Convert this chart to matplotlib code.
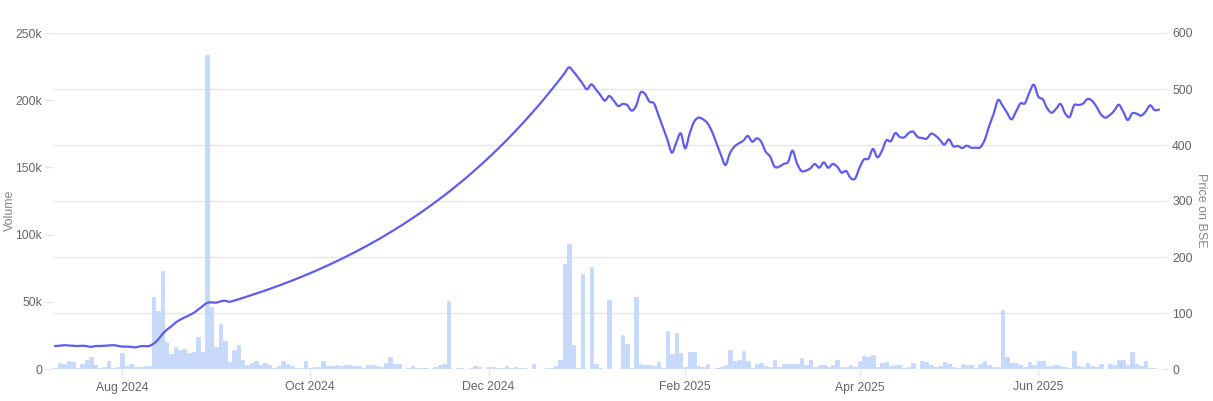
import numpy as np
import pandas as pd
import matplotlib
matplotlib.use('Agg')
import matplotlib.pyplot as plt
from matplotlib.path import Path
from matplotlib.patches import PathPatch

plt.rcParams['font.family'] = ['Liberation Sans', 'DejaVu Sans']

# trading calendar (BSE): weekdays minus exchange holidays, plus budget-day session
start_day = '2024-07-10'
end_day = '2025-07-09'
holidays = ['2024-07-17', '2024-08-15', '2024-10-02', '2024-11-01', '2024-11-15',
            '2024-11-20', '2024-12-25', '2025-02-26', '2025-03-14', '2025-03-31',
            '2025-04-10', '2025-04-14', '2025-04-18', '2025-05-01']
special_sessions = ['2025-02-01']
tick_months = ['2024-08-01', '2024-10-01', '2024-12-01', '2025-02-01', '2025-04-01', '2025-06-01']

volume = [
    500, 4200, 3500, 6000, 5000, 750, 3700, 6700, 9000, 3000, 750, 1500, 5700, 750, 1700,
    12200, 2500, 3500, 1200, 1200, 2200, 2200, 53600, 43000, 73000, 20000, 11000, 16400, 14000, 15000,
    12000, 12600, 23600, 12600, 234000, 46400, 16400, 33500, 20800, 5000, 14000, 18000, 6500, 3000, 4500,
    6000, 3000, 4200, 3000, 500, 2500, 5700, 3700, 2200, 1000,
    500, 6000, 500, 1500, 1500, 6000, 2200, 2200, 3200, 2200, 3000, 3000, 2200, 2000, 750,
    2700, 3000, 2200, 1500, 4500, 9000, 3500, 3700, 0, 1000, 2000, 500, 750, 500, 250,
    1500, 3000, 3700, 50600, 250, 750, 750, 250, 1000, 2500, 1700, 250, 1200, 1200, 750,
    750, 2200, 750, 1200, 1000, 750, 250, 3500, 250, 250, 750,
    750, 2200, 7000, 78000, 92700, 17600, 750, 70700, 0, 75600, 3700, 750, 0, 51000,
    250, 250, 25300, 18600, 1000, 53600, 3500, 2700, 3000, 2500, 5000, 750, 28000, 11400, 26800,
    12000, 1500, 13000, 13000, 2000, 1700, 3500, 0, 500, 1500, 2700, 13900, 6000, 6700, 13400,
    6000, 1000, 3700, 4500, 2200, 1700, 6500, 1700, 3700, 4000, 3700, 3700, 8400, 3000, 6500,
    1500, 3200, 3200, 1200, 2700, 6700, 1700, 1700,
    3000, 1500, 6000, 9900, 8900, 10700, 1500, 4500, 5000, 2200, 3200, 3200, 500, 1500, 4700,
    250, 5700, 5200, 3000, 1700, 2000, 5000, 4000, 1200, 750, 3500, 2700, 2700, 750, 3700,
    5700, 3200, 1500, 1700, 43900, 9200, 4200, 4200, 3000, 1200, 5200, 3000, 6000, 6000, 2500,
    2500, 3200, 2000, 1200, 500, 13400, 2200, 1500, 4200, 2500, 1200, 3500, 250, 3500, 3000,
    6700, 6700, 3200, 12400, 4000, 2000, 5700, 500, 500, 250,
]

price = [
    41.1, 41.5, 42.5, 42.0, 41.5, 41.0, 41.5, 41.0, 39.5, 41.0,
    41.0, 41.5, 42.0, 42.5, 41.5, 40.0, 40.0, 39.5, 38.7, 40.5,
    41.0, 41.0, 45.0, 52.0, 62.0, 70.0, 76.0, 83.0, 88.0, 92.0,
    96.0, 100.0, 106.0, 112.0, 118.0, 119.0, 118.5, 120.5, 122.0, 120.0,
    122.0, 124.4, 126.9, 129.5, 132.1, 134.7, 137.4, 140.1, 142.9, 145.8,
    148.7, 151.7, 154.7, 157.8, 161.0, 164.2, 167.5, 170.8, 174.2, 177.7,
    181.3, 184.9, 188.6, 192.4, 196.2, 200.2, 204.2, 208.2, 212.4, 216.7,
    221.0, 225.4, 229.9, 234.5, 239.2, 244.0, 248.9, 253.9, 258.9, 264.1,
    269.4, 274.8, 280.3, 285.9, 291.6, 297.4, 303.4, 309.4, 315.6, 321.9,
    328.4, 334.9, 341.6, 348.5, 355.4, 362.6, 369.8, 377.2, 384.7, 392.4,
    400.3, 408.3, 416.5, 424.8, 433.3, 442.0, 450.8, 459.8, 469.0, 478.4,
    488.0, 497.7, 507.7, 517.8, 528.2, 538.7,
    531.0, 520.8, 510.1, 499.4, 508.3, 499.4, 489.3, 479.2, 487.5, 479.2,
    469.6, 473.2, 471.4, 461.3, 469.6, 493.5, 491.1, 477.4, 474.4, 453.6,
    431.6, 410.1, 386.3, 404.2, 420.8, 394.0, 420.8, 441.7, 448.8, 445.8,
    438.7, 423.8, 403.0, 382.1, 364.3, 385.1, 397.0, 403.0, 407.7, 416.1,
    405.9, 411.9, 405.9, 388.1, 379.2, 361.3, 361.3, 366.1, 369.6, 389.9,
    367.3, 353.6, 354.2, 358.3, 366.1, 359.5, 369.0, 359.5, 366.1, 361.3,
    350.6, 353.6,
    341.1, 339.9, 359.5, 374.4, 375.6, 392.9, 378.0, 389.3, 408.3, 406.6,
    421.4, 414.3, 413.7, 421.4, 423.8, 414.3, 412.5, 411.3, 420.2, 416.7,
    408.9, 400.6, 410.1, 397.6, 398.2, 394.6, 398.8, 395.2, 395.2, 395.8,
    408.9, 433.9, 455.4, 480.4, 470.2, 457.7, 445.8, 459.5, 474.4, 474.4,
    493.5, 507.7, 486.3, 481.5, 465.5, 457.7, 464.9, 473.2, 456.5, 450.0,
    470.8, 471.4, 473.8, 482.1, 479.2, 468.5, 454.8, 448.8, 453.6, 461.3,
    472.0, 459.5, 444.6, 456.5, 455.9, 452.4, 459.5, 470.8, 462.5, 463.1,
]

vol_ticks = [0, 50000, 100000, 150000, 200000, 250000]
vol_labels = ['0', '50k', '100k', '150k', '200k', '250k']
price_ticks = [0, 100, 200, 300, 400, 500, 600]

days = pd.bdate_range(start_day, end_day)
days = days.drop(pd.to_datetime(holidays)).union(pd.to_datetime(special_sessions))

n = len(volume)
x = np.arange(n)
tick_pos = [int(np.searchsorted(days, pd.Timestamp(m))) for m in tick_months]
tick_lab = [pd.Timestamp(m).strftime('%b %Y') for m in tick_months]


def smooth_path(xs, ys):
    # cubic bezier through every point (catmull-rom handles), like a spline line series
    pts = np.column_stack([xs, ys]).astype(float)
    verts = [pts[0]]
    codes = [Path.MOVETO]
    for i in range(len(pts) - 1):
        p0 = pts[max(i - 1, 0)]
        p1 = pts[i]
        p2 = pts[i + 1]
        p3 = pts[min(i + 2, len(pts) - 1)]
        verts += [p1 + (p2 - p0) / 6.0, p2 - (p3 - p1) / 6.0, p2]
        codes += [Path.CURVE4] * 3
    return Path(verts, codes)


fig = plt.figure(figsize=(12.13, 4.01), dpi=100)
ax = fig.add_axes([53/1213, 32/401, 1108/1213, 336/401])
ax2 = ax.twinx()

grid_c = '#e6e6e6'
txt_c = '#666666'

# horizontal grid follows the price axis, drawn behind the bars
for t in price_ticks:
    ax.axhline(t * max(vol_ticks) / max(price_ticks), color=grid_c, lw=1, zorder=0)

ax.bar(x, volume, width=0.78, color='#c6d9fc', edgecolor='#b7cdf8', linewidth=0.4, zorder=2)
ax2.add_patch(PathPatch(smooth_path(x, price), facecolor='none', edgecolor='#5f5cf2',
                        lw=1.6, capstyle='round', joinstyle='round', zorder=3))

ax.set_xlim(-0.45, n - 0.55)
ax.set_ylim(0, max(vol_ticks))
ax2.set_ylim(0, max(price_ticks))

ax.set_yticks(vol_ticks)
ax.set_yticklabels(vol_labels)
ax2.set_yticks(price_ticks)
ax.set_xticks(tick_pos)
ax.set_xticklabels(tick_lab)

for a in (ax, ax2):
    for s in a.spines.values():
        s.set_visible(False)

ax.tick_params(axis='y', length=6, width=1, color=grid_c, labelcolor=txt_c, labelsize=8.8, pad=2)
ax.tick_params(axis='x', length=5, width=1, color=grid_c, labelcolor=txt_c, labelsize=8.8, pad=4)
ax2.tick_params(axis='y', length=5, width=1, color=grid_c, labelcolor=txt_c, labelsize=8.8, pad=3)

fig.text(10/1213, 1 - 210/401, 'Volume', rotation=90, ha='center', va='center',
         color='#888888', fontsize=9)
fig.text(1201/1213, 1 - 210/401, 'Price on BSE', rotation=270, ha='center', va='center',
         color='#888888', fontsize=9)

fig.savefig('out.png', dpi=100)
